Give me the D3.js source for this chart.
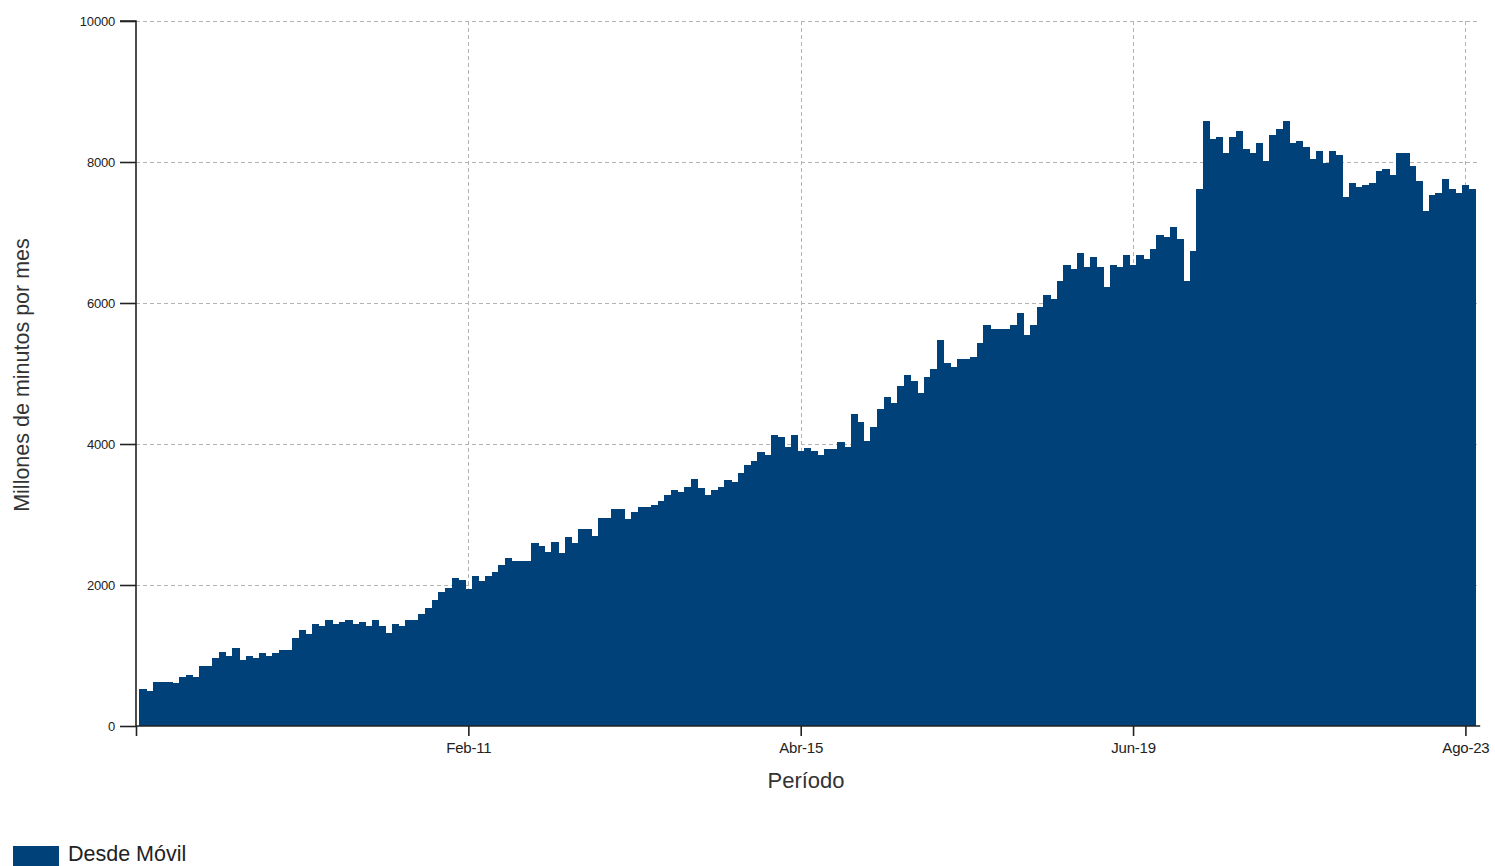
<!DOCTYPE html>
<html>
<head>
<meta charset="utf-8">
<script src="https://cdn.jsdelivr.net/npm/d3@7"></script>
<style>
  body { margin: 0; background: #fff; }
  svg { display: block; font-family: "Liberation Sans", Arial, sans-serif; }
</style>
</head>
<body>
<svg id="chart" width="1495" height="866"></svg>
<script>
// ---- data ----
const monthNames = ["Ene","Feb","Mar","Abr","May","Jun","Jul","Ago","Sep","Oct","Nov","Dic"];
const startYear = 2007; // first period: Ene-07
const seriesName = "Desde Móvil";
const values = [
  520,490,630,630,630,610,690,720,690,855,
  855,970,1050,1000,1110,940,1000,970,1030,1000,
  1030,1080,1080,1250,1365,1310,1450,1420,1510,1450,
  1480,1510,1450,1480,1420,1500,1420,1315,1445,1420,
  1500,1500,1590,1675,1790,1900,1960,2095,2070,1950,
  2130,2050,2130,2190,2280,2380,2340,2340,2340,2590,
  2560,2470,2610,2450,2680,2590,2790,2790,2700,2955,
  2955,3075,3075,2930,3040,3100,3100,3130,3190,3270,
  3350,3320,3385,3500,3380,3270,3350,3385,3495,3465,
  3585,3700,3755,3890,3840,4125,4095,3955,4125,3895,
  3950,3900,3845,3925,3925,4030,3955,4430,4315,4040,
  4235,4490,4660,4575,4825,4975,4890,4725,4945,5060,
  5480,5145,5090,5200,5200,5230,5430,5685,5630,5630,
  5630,5685,5855,5540,5685,5940,6110,6050,6310,6535,
  6480,6705,6505,6650,6505,6220,6535,6505,6675,6535,
  6675,6620,6760,6960,6930,7075,6905,6310,6735,7610,
  8575,8320,8350,8125,8350,8435,8180,8125,8265,8010,
  8380,8465,8575,8265,8295,8210,8040,8150,7980,8150,
  8095,7500,7700,7640,7670,7700,7870,7895,7810,8125,
  8125,7950,7725,7310,7530,7555,7755,7610,7555,7670,
  7610
];
const periods = values.map((v, i) =>
  monthNames[i % 12] + "-" + String((startYear + Math.floor(i / 12)) % 100).padStart(2, "0"));
const xTickLabels = ["Feb-11","Abr-15","Jun-19","Ago-23"];
const yTicks = [0, 2000, 4000, 6000, 8000, 10000];
const xTitle = "Período";
const yTitle = "Millones de minutos por mes";

// ---- layout ----
const svg = d3.select("#chart");
const pLeft = 136, pRight = 1478.7, pTop = 21, pBottom = 726;
const barColor = "#00417a";

const x = d3.scaleLinear().domain([-1, values.length]).range([pLeft, pRight]);
const y = d3.scaleLinear().domain([0, 10000]).range([pBottom, pTop]);
const step = x(1) - x(0);

const tickIdx = [-1].concat(xTickLabels.map(l => periods.indexOf(l)));

// grid
const grid = svg.append("g").attr("stroke", "#b3b3b3").attr("stroke-width", 1)
  .attr("stroke-dasharray", "4,3").attr("fill", "none");
grid.selectAll("line.h").data(yTicks.filter(d => d > 0)).join("line").attr("class", "h")
  .attr("x1", pLeft).attr("x2", pRight)
  .attr("y1", d => Math.round(y(d)) + 0.5).attr("y2", d => Math.round(y(d)) + 0.5);
grid.selectAll("line.v").data(tickIdx.filter(d => d >= 0)).join("line").attr("class", "v")
  .attr("y1", pTop).attr("y2", pBottom)
  .attr("x1", d => Math.round(x(d)) + 0.5).attr("x2", d => Math.round(x(d)) + 0.5);

// bars
svg.append("g").attr("shape-rendering", "crispEdges")
  .selectAll("rect").data(values).join("rect")
  .attr("x", (d, i) => x(i) - step / 2)
  .attr("width", step + 0.6)
  .attr("y", d => y(d))
  .attr("height", d => pBottom - y(d))
  .attr("fill", barColor);

// axes
const yAxis = d3.axisLeft(y).tickValues(yTicks).tickSize(16).tickPadding(5).tickFormat(d3.format("d"));
const gy = svg.append("g").attr("transform", `translate(${pLeft},0)`).call(yAxis);
gy.select(".domain").attr("stroke", "#222").attr("stroke-width", 1.6).attr("d", `M-16,${pTop}H0V${pBottom}`);
gy.selectAll(".tick line").attr("stroke", "#222").attr("stroke-width", 1.6);
gy.selectAll(".tick text").attr("font-size", 13).attr("fill", "#222")
  .attr("font-family", "\"Liberation Sans\", Arial, sans-serif").attr("letter-spacing", "-0.2");

const xAxis = d3.axisBottom(x).tickValues(tickIdx).tickSize(10).tickPadding(6)
  .tickFormat(d => d < 0 ? "" : periods[d]);
const gx = svg.append("g").attr("transform", `translate(0,${pBottom})`).call(xAxis);
gx.select(".domain").attr("stroke", "#222").attr("stroke-width", 1.6).attr("d", `M${pLeft},0H${pRight + 1.5}`);
gx.selectAll(".tick line").attr("stroke", "#222").attr("stroke-width", 1.6);
gx.selectAll(".tick text").attr("font-size", 15).attr("fill", "#222")
  .attr("font-family", "\"Liberation Sans\", Arial, sans-serif").attr("letter-spacing", "-0.2");

// titles
svg.append("text").attr("x", 806).attr("y", 788)
  .attr("text-anchor", "middle").attr("font-size", 22).attr("fill", "#333").text(xTitle);
svg.append("text").attr("transform", `translate(29,375) rotate(-90)`)
  .attr("text-anchor", "middle").attr("font-size", 21.5).attr("fill", "#333").text(yTitle);

// legend
const lg = svg.append("g");
lg.append("rect").attr("x", 13).attr("y", 846).attr("width", 46).attr("height", 20).attr("fill", barColor);
lg.append("text").attr("x", 68).attr("y", 861).attr("font-size", 21.5).attr("fill", "#222").text(seriesName);
</script>
</body>
</html>
